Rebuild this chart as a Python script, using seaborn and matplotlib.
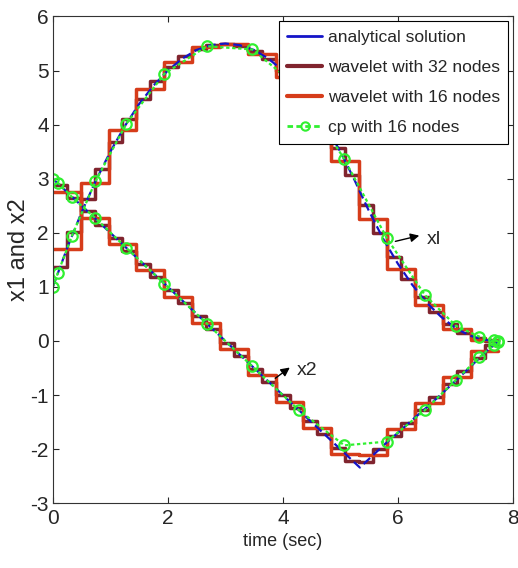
import numpy as np
import matplotlib
matplotlib.use('Agg')
import matplotlib.pyplot as plt
from matplotlib.lines import Line2D
import seaborn as sns

# final time and node counts
t_final = 7.75
n_fine = 32
n_coarse = 16

# analytical solution
t_exact = [0.0, 0.25, 0.5, 0.75, 1.0, 1.25, 1.5, 1.75, 2.0, 2.25, 2.5, 2.75, 3.0,
           3.25, 3.5, 3.75, 4.0, 4.25, 4.5, 4.75, 5.0, 5.25, 5.34, 5.5, 5.75,
           6.0, 6.25, 6.5, 6.75, 7.0, 7.25, 7.5, 7.75]
x1_exact = [1.0, 1.72, 2.38, 2.97, 3.5, 3.97, 4.38, 4.72, 5.0, 5.22, 5.38, 5.47, 5.5,
            5.47, 5.38, 5.22, 5.0, 4.72, 4.38, 3.97, 3.5, 2.97, 2.76, 2.40, 1.88,
            1.43, 1.04, 0.71, 0.45, 0.24, 0.10, 0.02, 0.0]
x2_exact = [3.0, 2.75, 2.5, 2.25, 2.0, 1.75, 1.5, 1.25, 1.0, 0.75, 0.5, 0.25, 0.0,
            -0.25, -0.5, -0.75, -1.0, -1.25, -1.5, -1.75, -2.0, -2.25, -2.34, -2.18, -1.93,
            -1.70, -1.46, -1.23, -0.99, -0.74, -0.49, -0.23, 0.0]

# Haar wavelet solution, 32 nodes
x1_w32 = [1.36, 2.02, 2.63, 3.18, 3.68, 4.11, 4.48, 4.80, 5.06, 5.26, 5.40, 5.48,
          5.50, 5.46, 5.37, 5.22, 5.00, 4.73, 4.40, 4.02, 3.57, 3.06, 2.51, 2.00,
          1.55, 1.15, 0.81, 0.54, 0.31, 0.15, 0.05, 0.00]
x2_w32 = [2.88, 2.64, 2.40, 2.15, 1.91, 1.67, 1.43, 1.18, 0.94, 0.70, 0.46, 0.22,
          -0.03, -0.27, -0.51, -0.75, -1.00, -1.24, -1.48, -1.72, -1.97, -2.21, -2.23, -1.99,
          -1.75, -1.51, -1.27, -1.03, -0.79, -0.55, -0.31, -0.07]

# Haar wavelet solution, 16 nodes
x1_w16 = [1.70, 2.92, 3.90, 4.65, 5.16, 5.44, 5.49, 5.30, 4.88, 4.22, 3.32, 2.25,
          1.34, 0.67, 0.23, 0.02]
x2_w16 = [2.76, 2.27, 1.79, 1.31, 0.82, 0.34, -0.15, -0.63, -1.12, -1.60, -2.09, -2.11,
          -1.63, -1.15, -0.67, -0.19]

# collocation (cp) solution, 16 nodes
t_cp = [0.0, 0.085, 0.335, 0.74, 1.28, 1.94, 2.68, 3.47, 4.28, 5.07, 5.81, 6.47,
        7.01, 7.42, 7.67, 7.75]
x1_cp = [1.0, 1.25, 1.95, 2.95, 4.02, 4.94, 5.45, 5.39, 4.68, 3.36, 1.90, 0.85,
         0.28, 0.08, 0.02, 0.0]
x2_cp = [3.0, 2.93, 2.66, 2.27, 1.72, 1.06, 0.32, -0.47, -1.28, -1.93, -1.86, -1.28,
         -0.72, -0.30, -0.07, -0.01]

c_exact = '#1414C8'
c_w32 = '#80242E'
c_w16 = '#D63C1A'
c_cp = '#30F030'

sns.set_style('ticks')
plt.rcParams['font.family'] = ['Liberation Sans', 'DejaVu Sans']
plt.rcParams['axes.unicode_minus'] = False

fig = plt.figure(figsize=(5.18, 5.68), dpi=100)
ax = fig.add_axes([0.102, 0.114, 0.888, 0.857])


def stairs(vals, n, color, lw):
    edges = np.linspace(0, t_final, n + 1)
    yy = np.append(vals, vals[-1])
    sns.lineplot(x=edges, y=yy, ax=ax, color=color, lw=lw, drawstyle='steps-post',
                 sort=False, estimator=None)


for xs in (x1_w32, x2_w32):
    stairs(xs, n_fine, c_w32, 2.5)
for xs in (x1_w16, x2_w16):
    stairs(xs, n_coarse, c_w16, 2.5)

for ys in (x1_exact, x2_exact):
    sns.lineplot(x=t_exact, y=ys, ax=ax, color=c_exact, lw=1.6, ls=(0, (4, 2)),
                 sort=False, estimator=None)

for ys in (x1_cp, x2_cp):
    sns.lineplot(x=t_cp, y=ys, ax=ax, color=c_cp, lw=1.6, ls=(0, (1.5, 1.2)),
                 marker='o', markersize=7.5, markerfacecolor='none',
                 markeredgecolor=c_cp, markeredgewidth=1.6, sort=False, estimator=None)

# arrows with labels
ax.annotate('', xy=(6.42, 1.96), xytext=(5.91, 1.83),
            arrowprops=dict(arrowstyle='-|>', color='k', lw=1, mutation_scale=13))
ax.text(6.5, 1.88, 'xl', fontsize=14, va='center', ha='left')
ax.annotate('', xy=(4.16, -0.46), xytext=(3.83, -0.72),
            arrowprops=dict(arrowstyle='-|>', color='k', lw=1, mutation_scale=13))
ax.text(4.24, -0.55, 'x2', fontsize=14, va='center', ha='left')

ax.set_xlim(0, 8)
ax.set_ylim(-3, 6)
ax.set_xticks([0, 2, 4, 6, 8])
ax.set_yticks(range(-3, 7))
ax.tick_params(direction='in', top=True, right=True, length=4, width=0.8,
               labelsize=15)
ax.tick_params(axis='x', pad=4)
ax.tick_params(axis='y', pad=3)
for sp in ax.spines.values():
    sp.set_visible(True)
    sp.set_linewidth(0.8)
    sp.set_color('#333333')
ax.set_xlabel('time (sec)', fontsize=13, labelpad=4)
ax.set_ylabel('x1 and x2', fontsize=17)
ax.yaxis.set_label_coords(-0.05, 0.52)

handles = [
    Line2D([], [], color=c_exact, lw=2),
    Line2D([], [], color=c_w32, lw=3),
    Line2D([], [], color=c_w16, lw=3),
    Line2D([], [], color=c_cp, lw=2, ls=(0, (2, 1.2)), marker='o', markersize=6,
           markerfacecolor='none', markeredgewidth=1.5),
]
labels = ['analytical solution', 'wavelet with 32 nodes', 'wavelet with 16 nodes',
          'cp with 16 nodes']
leg = ax.legend(handles, labels, loc='upper right', fontsize=12.6, frameon=True,
                fancybox=False, framealpha=1, edgecolor='k', borderaxespad=0.25,
                handlelength=2.0, handletextpad=0.3, labelspacing=0.85, borderpad=0.5)
leg.get_frame().set_linewidth(0.8)

fig.savefig('out.png', dpi=100)
